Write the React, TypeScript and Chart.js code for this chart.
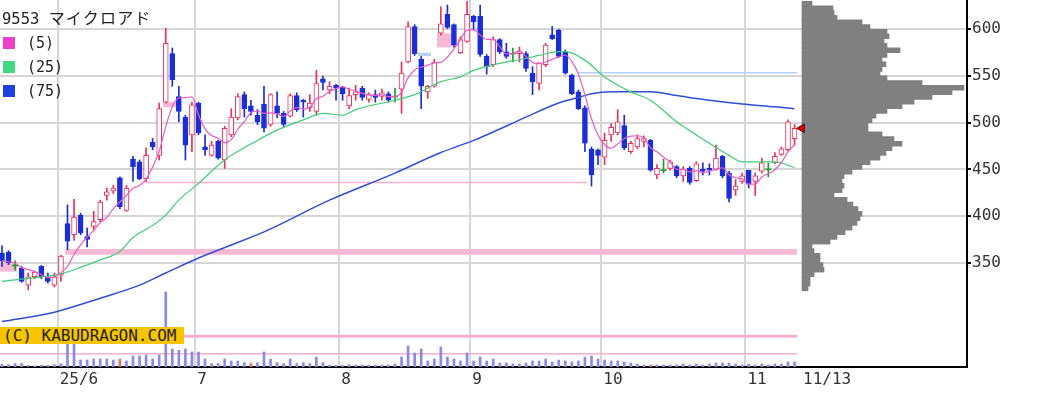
import React, { useEffect, useRef } from 'react';
import { Chart, registerables } from 'chart.js';

Chart.register(...registerables);

const TITLE_CODE = '9553';
const TITLE_NAME = 'マイクロアド';
const COPYRIGHT = '(C) KABUDRAGON.COM';
const MA_PERIODS = [5, 25, 75];

// daily candles, 2025/5/20 .. 2025/11/13 (index 0..121)
const OPEN = [360,361,347,344,326,335,346,335,326,337, 392,380,401,378,389,396,422,427,441,406,
  461,458,440,479,465,522,574,528,506,487, 521,474,465,480,460,487,505,530,518,508,
  520,498,518,510,507,529,524,516,512,547, 535,540,538,518,530,537,525,530,528,531,
  528,536,565,603,568,533,539,596,616,605, 575,587,614,614,571,562,589,576,574,574,
  574,553,542,562,594,599,576,551,533,516, 472,471,463,487,489,497,469,474,480,481,
  444,449,451,453,443,451,438,450,451,450, 464,446,428,437,449,437,448,450,457,466,
  471,483];
const HIGH = [368,363,352,346,339,341,347,339,339,358, 412,418,403,387,405,417,430,433,442,433,
  464,460,473,483,521,601,580,539,508,522, 522,487,480,481,496,515,531,533,524,514,
  539,531,533,512,531,532,525,530,556,550, 544,541,539,537,540,539,532,535,536,533,
  537,565,608,605,571,540,568,624,626,606, 592,630,615,626,573,592,590,585,580,581,
  576,560,564,585,603,600,578,552,535,518, 474,472,489,499,514,508,480,487,486,482,
  455,461,460,454,453,453,458,457,456,476, 465,448,439,446,449,446,462,457,468,474,
  503,498];
const LOW = [346,348,342,329,321,333,333,328,324,330, 364,374,380,367,385,394,417,424,408,405,
  437,439,437,471,460,521,539,501,460,469, 487,465,464,461,451,485,503,506,508,498,
  490,496,505,496,506,512,506,512,508,535, 531,524,524,515,524,524,522,522,524,522,
  522,510,564,572,515,526,538,594,601,581, 574,586,599,571,552,560,574,569,565,565,
  555,530,535,560,589,570,552,530,514,469, 432,455,455,480,487,471,467,472,474,448,
  440,446,449,441,437,434,437,444,444,449, 441,415,422,435,430,422,446,442,456,465,
  470,476];
const CLOSE = [352,350,347,330,335,340,335,330,335,357, 373,399,382,375,394,415,426,430,410,430,
  453,440,465,474,515,585,546,512,476,519, 489,471,476,462,494,506,528,515,512,501,
  494,530,510,498,529,514,522,521,542,543, 539,537,531,529,533,527,530,527,532,524,
  528,553,603,574,539,539,565,606,602,583, 589,616,608,573,560,589,576,571,574,576,
  558,544,564,583,590,571,553,531,515,478, 444,465,481,495,501,473,478,483,483,449,
  451,449,458,443,450,436,456,448,449,462, 443,419,432,443,434,443,457,450,464,472,
  501,494];
const VOLUME = [27,24,34,34,17,10,17,17,24,34, 300,280,70,70,80,80,80,70,80,60,
  110,110,120,80,120,750,180,167,180,150, 150,80,34,34,80,60,60,43,34,43,
  150,80,43,34,80,34,44,34,100,43, 17,17,17,24,20,20,20,20,20,20,
  30,100,210,140,180,60,80,200,100,80, 60,140,60,100,60,80,40,40,30,30,
  40,60,60,80,50,70,60,50,60,100, 110,80,70,60,60,50,40,30,20,20,
  20,20,20,20,30,20,30,20,30,40, 40,40,30,20,30,20,30,20,30,30,
  50,50];
const VOLUME_RED_DAYS = [18, 38, 99];

const X_TICK_POS = [8.5, 29.5, 51.5, 71.5, 91.5, 113.5, 122];
const X_TICK_LABELS = ['25/6', '7', '8', '9', '10', '11', '11/13'];
const Y_TICKS = [350, 400, 450, 500, 550, 600];

const MA25_IDX = [0,5,9,12,15,18,20,23,25,27,30,34,39,42,46,49,52,54,60,63,65,67,70,72,75,80,82,85,86,89,92,96,99,103,108,111,113,118,121];
const MA25_VAL = [330,334,338,345,353,362,377,390,401,417,435,460,481,492,503,510,508,514,524,530,537,544,549,556,562,569,572,576,576,567,549,533,524,501,478,465,458,458,452];
const MA75_IDX = [0,8,15,21,25,30,35,40,50,60,67,72,75,80,85,88,90,93,99,103,108,113,118,121];
const MA75_VAL = [287,297,312,326,339,355,369,383,417,446,468,481,490,506,521,527,531,533,533,529,524,520,517,515];

// price-by-volume profile (5-yen bins)
const PROFILE_PRICE = [322.5,327.5,332.5,337.5,342.5,347.5,352.5,357.5,362.5,367.5,
  372.5,377.5,382.5,387.5,392.5,397.5,402.5,407.5,412.5,417.5,
  422.5,427.5,432.5,437.5,442.5,447.5,452.5,457.5,462.5,467.5,
  472.5,477.5,482.5,487.5,492.5,497.5,502.5,507.5,512.5,517.5,
  522.5,527.5,532.5,537.5,542.5,547.5,552.5,557.5,562.5,567.5,
  572.5,577.5,582.5,587.5,592.5,597.5,602.5,607.5,612.5,617.5,
  622.5,627.5];
const PROFILE_VOL = [6,8,8,12,22,21,18,18,12,10,
  28,35,43,50,55,58,60,56,51,45,
  32,40,42,40,42,50,60,68,78,84,
  90,100,92,80,66,66,70,74,85,100,
  112,130,150,162,120,85,78,80,84,80,
  85,98,85,82,87,85,68,60,35,32,
  31,10];

// shaded zones (gaps / support band)
const ZONE_START = [-0.4, 9.6, 24.6, 63.5, 66.4];
const ZONE_END = [2.3, 121.4, 26.7, 65.5, 68.7];
const ZONE_LOW = [340.4, 358.4, 516.4, 571.4, 580.7];
const ZONE_HIGH = [350, 364.6, 522.2, 574.9, 595.7];
const ZONE_KIND = ['pink', 'pink', 'pink', 'blue', 'pink'];

const LEVEL_PRICE = [436, 553.5];
const LEVEL_START = [21.8, 87.9];
const LEVEL_END = [89.3, 121.4];
const LEVEL_KIND = ['pink', 'blue'];

const VOL_LEVELS = [307, 132];
const LAST_PRICE = 494;

const RED = '#e8305e';
const BLUE = '#1a2ed8';
const GREEN = '#1e9a2a';
const MA_COLORS = ['#e65cc8', '#3ccf74', '#2f4fd6'];
const LEGEND_COLORS = ['#f040c8', '#40d880', '#2040e0'];
const GRID = '#d6d6d6';
const AXIS_FONT = 'DejaVu Sans Mono';

export default function App() {
  const ref = useRef<HTMLCanvasElement>(null);

  useEffect(() => {
    if (!ref.current) return;
    const col = (i: number) => (CLOSE[i] > OPEN[i] ? RED : CLOSE[i] < OPEN[i] ? BLUE : GREEN);
    const idx = CLOSE.map((_, i) => i);
    const ma5 = CLOSE.map((_, i) => {
      const w = CLOSE.slice(Math.max(0, i - 4), i + 1);
      return w.reduce((a, b) => a + b, 0) / w.length;
    });
    const lastIdx = CLOSE.length - 1;

    const datasets: any[] = [];
    ZONE_START.forEach((s, k) => {
      datasets.push({
        type: 'line',
        data: [{ x: s, y: ZONE_HIGH[k] }, { x: ZONE_END[k], y: ZONE_HIGH[k] }],
        borderColor: 'rgba(0,0,0,0)',
        borderWidth: 0,
        pointRadius: 0,
        fill: { value: ZONE_LOW[k] },
        backgroundColor: ZONE_KIND[k] === 'blue' ? '#b4d2f5' : '#f6b8d2',
        order: 30,
      });
    });
    LEVEL_PRICE.forEach((p, k) => {
      datasets.push({
        type: 'line',
        data: [{ x: LEVEL_START[k], y: p }, { x: LEVEL_END[k], y: p }],
        borderColor: LEVEL_KIND[k] === 'blue' ? '#b4d2f5' : '#f2b0cc',
        borderWidth: 1.5,
        pointRadius: 0,
        fill: false,
        order: 29,
      });
    });
    VOL_LEVELS.forEach((v, k) => {
      datasets.push({
        type: 'line',
        yAxisID: 'yv',
        data: [{ x: -0.4, y: v }, { x: 121.4, y: v }],
        borderColor: '#f4b0cc',
        borderWidth: k === 0 ? 3 : 1.5,
        pointRadius: 0,
        fill: false,
        order: 29,
      });
    });
    datasets.push({
      type: 'bar',
      indexAxis: 'y',
      xAxisID: 'xp',
      yAxisID: 'y',
      data: PROFILE_PRICE.map((p, k) => ({ x: PROFILE_VOL[k], y: p })),
      backgroundColor: '#808080',
      barThickness: 4.8,
      grouped: false,
      order: 25,
    });
    datasets.push({
      type: 'bar',
      yAxisID: 'yv',
      data: VOLUME.map((v, i) => ({ x: i, y: v })),
      backgroundColor: idx.map((i) => (VOLUME_RED_DAYS.includes(i) ? '#e07070' : '#8a8ae6')),
      barThickness: 2,
      grouped: false,
      order: 24,
    });
    datasets.push({
      type: 'bar',
      data: idx.map((i) => ({ x: i, y: [LOW[i], HIGH[i]] })),
      backgroundColor: idx.map(col),
      barThickness: 1,
      grouped: false,
      order: 10,
    });
    const bodyIdx = idx.filter((i) => OPEN[i] !== CLOSE[i]);
    datasets.push({
      type: 'bar',
      data: bodyIdx.map((i) => ({ x: i, y: [OPEN[i], CLOSE[i]] })),
      backgroundColor: bodyIdx.map((i) => (CLOSE[i] > OPEN[i] ? '#ffffff' : BLUE)),
      borderColor: bodyIdx.map((i) => col(i)),
      borderWidth: 1,
      borderSkipped: false,
      barThickness: 5,
      grouped: false,
      order: 9,
    });
    const dojiIdx = idx.filter((i) => OPEN[i] === CLOSE[i]);
    datasets.push({
      type: 'line',
      showLine: false,
      data: dojiIdx.map((i) => ({ x: i, y: CLOSE[i] })),
      pointStyle: 'line',
      pointRadius: 3,
      borderColor: GREEN,
      pointBorderWidth: 1.5,
      order: 8,
    });
    datasets.push({
      type: 'line',
      data: MA75_IDX.map((i, k) => ({ x: i, y: MA75_VAL[k] })),
      borderColor: MA_COLORS[2],
      borderWidth: 1.5,
      pointRadius: 0,
      cubicInterpolationMode: 'monotone',
      fill: false,
      order: 3,
    });
    datasets.push({
      type: 'line',
      data: MA25_IDX.map((i, k) => ({ x: i, y: MA25_VAL[k] })),
      borderColor: MA_COLORS[1],
      borderWidth: 1.2,
      pointRadius: 0,
      cubicInterpolationMode: 'monotone',
      fill: false,
      order: 2,
    });
    datasets.push({
      type: 'line',
      data: idx.map((i) => ({ x: i, y: ma5[i] })),
      borderColor: MA_COLORS[0],
      borderWidth: 1.2,
      pointRadius: 0,
      cubicInterpolationMode: 'monotone',
      fill: false,
      order: 1,
    });
    datasets.push({
      type: 'line',
      showLine: false,
      data: [{ x: lastIdx + 1.1, y: LAST_PRICE }],
      pointStyle: 'triangle',
      rotation: -90,
      pointRadius: 5,
      backgroundColor: '#e00000',
      borderColor: '#500000',
      pointBorderWidth: 1,
      clip: false,
      order: 0,
    });

    const chart = new Chart(ref.current, {
      type: 'bar',
      data: { datasets },
      options: {
        responsive: false,
        maintainAspectRatio: false,
        animation: false,
        devicePixelRatio: 1,
        events: [],
        layout: { padding: 0, autoPadding: false },
        plugins: { legend: { display: false }, tooltip: { enabled: false }, title: { display: false } },
        scales: {
          x: {
            type: 'linear',
            axis: 'x',
            position: 'bottom',
            offset: false,
            min: -0.305,
            max: 147.33,
            afterBuildTicks: (s: any) => {
              s.ticks = X_TICK_POS.map((v) => ({ value: v }));
            },
            afterFit: (s: any) => {
              s.height = 32;
              s.paddingLeft = 0;
              s.paddingRight = 0;
            },
            ticks: {
              autoSkip: false,
              maxRotation: 0,
              minRotation: 0,
              align: 'start',
              labelOffset: 2,
              padding: 3,
              color: '#333',
              font: { family: AXIS_FONT, size: 16 },
              callback: (_v: any, i: number) => X_TICK_LABELS[i],
            },
            grid: {
              offset: false,
              drawTicks: false,
              lineWidth: 2,
              color: (ctx: any) => (ctx.index === X_TICK_POS.length - 1 ? 'rgba(0,0,0,0)' : GRID),
            },
            border: { color: '#000', width: 2 },
          },
          y: {
            type: 'linear',
            axis: 'y',
            position: 'right',
            offset: false,
            min: 238.3,
            max: 631.4,
            afterBuildTicks: (s: any) => {
              s.ticks = Y_TICKS.map((v) => ({ value: v }));
            },
            afterFit: (s: any) => {
              s.width = 70;
              s.paddingTop = 0;
              s.paddingBottom = 0;
            },
            ticks: {
              padding: 1,
              color: '#333',
              font: { family: AXIS_FONT, size: 16 },
              callback: (v: any) => String(v),
            },
            grid: { offset: false, color: GRID, lineWidth: 2, tickColor: '#000', tickLength: 4 },
            border: { color: '#000', width: 2 },
          },
          yv: { type: 'linear', axis: 'y', display: false, offset: false, min: 0, max: 3670 },
          xp: { type: 'linear', axis: 'x', display: false, offset: false, min: -802, max: 165 },
        },
      } as any,
    });
    return () => chart.destroy();
  }, []);

  return (
    <div style={{ position: 'absolute', left: 0, top: 0, width: 1037, height: 399, background: '#fff', overflow: 'hidden' }}>
      <canvas ref={ref} width={1037} height={399} style={{ display: 'block', width: 1037, height: 399 }} />
      <div style={{ position: 'absolute', left: 2, top: 5, color: '#222', lineHeight: '20px', whiteSpace: 'nowrap' }}>
        <span style={{ font: '15.5px "DejaVu Sans Mono"' }}>{TITLE_CODE + ' '}</span>
        <span style={{ font: '16px "Noto Sans CJK JP"', letterSpacing: '1.2px' }}>{TITLE_NAME}</span>
      </div>
      {MA_PERIODS.map((p, k) => (
        <div key={p} style={{ position: 'absolute', left: 3, top: 36 + k * 24, height: 13, display: 'flex', alignItems: 'center', whiteSpace: 'nowrap' }}>
          <span style={{ width: 12, height: 12, background: LEGEND_COLORS[k], display: 'inline-block' }} />
          <span style={{ marginLeft: 12, font: '15px "DejaVu Sans Mono"', color: '#222' }}>{`(${p})`}</span>
        </div>
      ))}
      <div style={{ position: 'absolute', left: 0, top: 327, width: 184, height: 17, background: '#f7c400', font: '16px "DejaVu Sans Mono"', lineHeight: '17px', color: '#222', paddingLeft: 3, boxSizing: 'border-box', whiteSpace: 'nowrap', overflow: 'hidden' }}>
        {COPYRIGHT}
      </div>
    </div>
  );
}
